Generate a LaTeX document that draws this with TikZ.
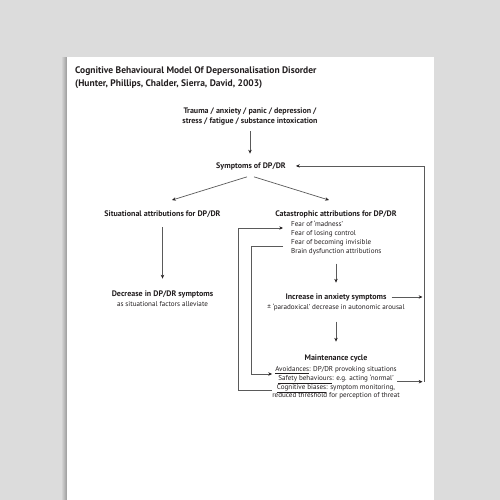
\documentclass[tikz,border=0pt]{standalone}
\usepackage{fontspec}
\setmainfont{PT Sans}
\usetikzlibrary{arrows.meta}
\definecolor{bggrey}{HTML}{DCDCDC}
\definecolor{ink}{HTML}{231F20}
\definecolor{wire}{HTML}{5A5A5A}
\tikzset{
	arr/.style={draw=wire, line width=0.7pt, -{Stealth[length=3.8pt,width=3.4pt,color=ink]}},
	hd/.style={inner sep=0pt, anchor=base, text=ink, font=\fontsize{8}{10}\selectfont\bfseries},
	txt/.style={inner sep=0pt, anchor=base, text=ink, font=\fontsize{7.1}{9}\selectfont},
	ttl/.style={inner sep=0pt, anchor=base west, text=ink, font=\fontsize{9.5}{13}\selectfont\bfseries},
}
\begin{document}
\begin{tikzpicture}[x=1pt,y=-1pt]
			\useasboundingbox (0,0) rectangle (500,500);
			\fill[bggrey] (0,0) rectangle (500,500);
			% page and its shadow
			\shade[left color=bggrey, right color=black!40] (61,57.5) rectangle (67,500);
			\fill[white] (67,57) rectangle (433.5,500);
			% title
			\node[ttl] (title) at (75,73.3) {Cognitive Behavioural Model Of Depersonalisation Disorder};
			\node[ttl] (title2) at (75,86.3) {(Hunter, Phillips, Chalder, Sierra, David, 2003)};
			% boxes
			\node[hd, anchor=center, align=center] (trauma) at (250,116.5) {Trauma / anxiety / panic / depression /\\stress / fatigue / substance intoxication};
			\node[hd] (symp) at (251,168) {Symptoms of DP/DR};
			\node[hd] (situ) at (162.5,216) {Situational attributions for DP/DR};
			\node[hd] (cata) at (336,216) {Catastrophic attributions for DP/DR};
			\node[txt, anchor=base west] (fear1) at (291,226.5) {Fear of ‘madness’};
			\node[txt, anchor=base west] (fear2) at (291,235.5) {Fear of losing control};
			\node[txt, anchor=base west] (fear3) at (291,244.5) {Fear of becoming invisible};
			\node[txt, anchor=base west] (fear4) at (291,253.5) {Brain dysfunction attributions};
			\node[hd] (decr) at (162.5,296) {Decrease in DP/DR symptoms};
			\node[txt] (alle) at (162.5,306.5) {as situational factors alleviate};
			\node[hd] (incr) at (336,299) {Increase in anxiety symptoms};
			\node[txt] (para) at (336,309.5) {± ‘paradoxical’ decrease in autonomic arousal};
			\node[hd] (maint) at (336,360.5) {Maintenance cycle};
			\node[txt] (avoid) at (336,371.8) {\underline{Avoidances}: DP/DR provoking situations};
			\node[txt] (safe) at (336,380.5) {\underline{Safety behaviours}: e.g. acting ‘normal’};
			\node[txt] (cog) at (336,389.2) {\underline{Cognitive biases}: symptom monitoring,};
			\node[txt] (thr) at (336,397.9) {reduced threshold for perception of threat};
			% main arrows
			\draw[arr] ([yshift=-6pt]trauma.south) -- ([yshift=8.5pt]symp.north -| trauma.south);
			\draw[arr] ([shift={(-4pt,-7pt)}]symp.south) -- ([shift={(9.5pt,10pt)}]situ.north);
			\draw[arr] ([shift={(3pt,-7pt)}]symp.south) -- ([shift={(-7pt,10pt)}]cata.north);
			\draw[arr] ([yshift=-10pt]situ.south) -- ([yshift=11.5pt]decr.north);
			\coordinate (fearsbot) at (incr.north |- fear4.south);
			\draw[arr] ([yshift=-8.5pt]fearsbot) -- ([yshift=10.5pt]incr.north);
			\draw[arr] ([yshift=-10.5pt]para.south) -- ([yshift=13pt]maint.north);
			% feedback to symptoms
			\coordinate (rail) at (424,381.7);
			\draw[arr] (rail) |- ([xshift=10pt]symp.east);
			\draw[arr, shorten >=1.5pt] ([xshift=5pt]incr.east) -- (incr.east -| rail);
			\draw[arr, shorten <=2pt, shorten >=1.5pt] (rail -| cog.east) -- (rail);
			% loops back to the attributions and the cycle
			\coordinate (outbot) at (238.5,390.7);
			\coordinate (outtop) at (238.5,228);
			\draw[arr, shorten <=5pt, shorten >=8pt] (outbot -| cog.west) -- (outbot) -- (outtop) -- (outtop -| fear1.west);
			\coordinate (inntop) at (251,246.5);
			\coordinate (innbot) at (251,374);
			\draw[arr, shorten <=8pt, shorten >=3pt] (inntop -| fear4.west) -- (inntop) -- (innbot) -- (innbot -| avoid.west);
		\end{tikzpicture}
\end{document}
